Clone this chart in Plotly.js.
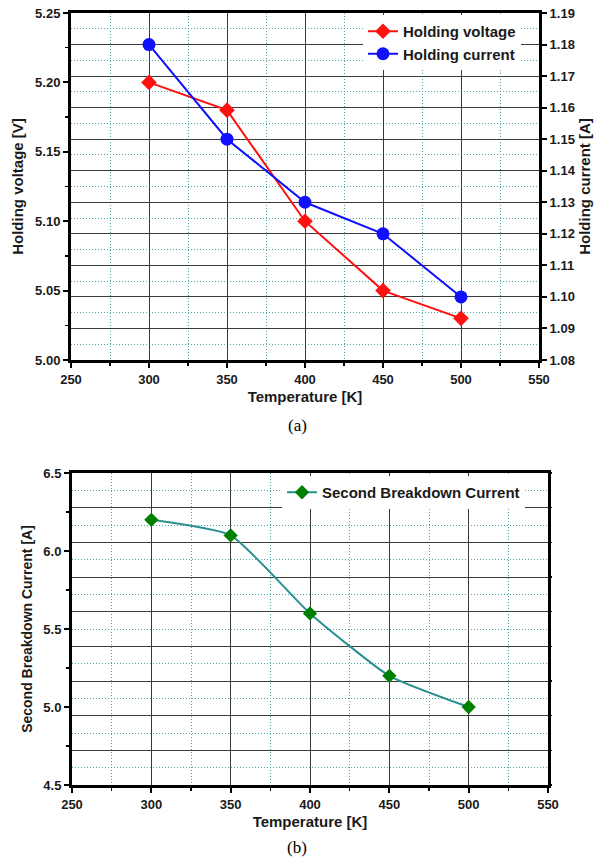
<!DOCTYPE html>
<html>
<head>
<meta charset="utf-8">
<script src="https://cdn.plot.ly/plotly-3.0.1.min.js"></script>
<style>
html,body{margin:0;padding:0;background:#fff;}
#chart{width:595px;height:860px;}
</style>
</head>
<body>
<div id="chart"></div>
<script>
// ---- data ----
const temperatures = [300, 350, 400, 450, 500];
const holdingVoltage = [5.20, 5.18, 5.10, 5.05, 5.03];
const holdingCurrent = [1.18, 1.15, 1.13, 1.12, 1.10];
const secondBreakdownCurrent = [6.2, 6.1, 5.6, 5.2, 5.0];
const seriesNames = ['Holding voltage', 'Holding current', 'Second Breakdown Current'];
const captions = ['(a)', '(b)'];

// ---- geometry helpers ----
const W = 595, H = 860;
const fx = px => px / W;
const fy = py => 1 - py / H;

const FONT = 'Liberation Sans, Arial, sans-serif';
const tickFont = {family: FONT, size: 13, color: '#1a1a1a', weight: 'bold'};
const titleFont = {family: FONT, size: 15, color: '#1a1a1a', weight: 'bold'};
const majorGrid = '#3a3a3a';
const minorGrid = '#4fa8a8';
const minorDash = '1px,2px';

function xAxis(domain, anchor) {
  return {
    domain: domain, anchor: anchor, range: [250, 550], dtick: 50, tick0: 0,
    showline: true, linecolor: '#000', linewidth: 3, mirror: true,
    ticks: 'outside', ticklen: 5, tickwidth: 2, tickcolor: '#000',
    showgrid: true, gridcolor: majorGrid, gridwidth: 1, zeroline: false,
    tickfont: tickFont,
    minor: {dtick: 25, ticks: 'outside', ticklen: 3, tickwidth: 1.5, tickcolor: '#000',
            showgrid: true, gridcolor: minorGrid, griddash: minorDash, gridwidth: 1},
    title: {text: 'Temperature [K]', font: titleFont, standoff: 6}
  };
}

const traces = [
  {
    x: temperatures, y: holdingVoltage, name: seriesNames[0], type: 'scatter', mode: 'lines+markers',
    xaxis: 'x', yaxis: 'y', legend: 'legend',
    line: {color: '#ff1010', width: 2},
    marker: {symbol: 'diamond', size: 12, color: '#ff1010'}
  },
  {
    x: temperatures, y: holdingCurrent, name: seriesNames[1], type: 'scatter', mode: 'lines+markers',
    xaxis: 'x', yaxis: 'y2', legend: 'legend',
    line: {color: '#1010ff', width: 2},
    marker: {symbol: 'circle', size: 13, color: '#1010ff'}
  },
  {
    x: temperatures, y: secondBreakdownCurrent, name: seriesNames[2], type: 'scatter', mode: 'lines+markers',
    xaxis: 'x2', yaxis: 'y3', legend: 'legend2',
    line: {color: '#2a8f8f', width: 2, shape: 'spline', smoothing: 0.5},
    marker: {symbol: 'diamond', size: 11, color: '#008000'}
  },
  {
    x: [], y: [], xaxis: 'x2', yaxis: 'y4', showlegend: false, hoverinfo: 'skip', type: 'scatter', mode: 'markers'
  }
];

const topX = [fx(71), fx(539)], topY = [fy(360), fy(13)];
const botX = [fx(72), fx(548)], botY = [fy(785), fy(473)];

const layout = {
  width: W, height: H,
  margin: {l: 0, r: 0, t: 0, b: 0},
  paper_bgcolor: '#fff', plot_bgcolor: '#fff',
  font: {family: FONT, color: '#1a1a1a'},
  xaxis: xAxis(topX, 'y'),
  yaxis: {
    domain: topY, anchor: 'x', range: [5.00, 5.25], dtick: 0.05, tick0: 0, tickformat: '.2f',
    showline: true, linecolor: '#000', linewidth: 3, mirror: true,
    ticks: 'outside', ticklen: 5, tickwidth: 2, tickcolor: '#000',
    showgrid: false, zeroline: false, tickfont: tickFont,
    minor: {dtick: 0.025, ticks: 'outside', ticklen: 3, tickwidth: 1.5, tickcolor: '#000', showgrid: false},
    title: {text: 'Holding voltage [V]', font: titleFont, standoff: 8}
  },
  yaxis2: {
    overlaying: 'y', side: 'right', anchor: 'x', range: [1.08, 1.19], dtick: 0.01, tick0: 0, tickformat: '.2f',
    showline: true, linecolor: '#000', linewidth: 3,
    ticks: 'outside', ticklen: 5, tickwidth: 2, tickcolor: '#000',
    showgrid: true, gridcolor: majorGrid, gridwidth: 1, zeroline: false, tickfont: tickFont,
    minor: {dtick: 0.005, showgrid: true, gridcolor: minorGrid, griddash: minorDash, gridwidth: 1},
    title: {text: 'Holding current [A]', font: titleFont, standoff: 2}
  },
  xaxis2: xAxis(botX, 'y3'),
  yaxis3: {
    domain: botY, anchor: 'x2', range: [4.5, 6.5], dtick: 0.5, tick0: 0, tickformat: '.1f',
    showline: true, linecolor: '#000', linewidth: 3, mirror: true,
    ticks: 'outside', ticklen: 5, tickwidth: 2, tickcolor: '#000',
    showgrid: false, zeroline: false, tickfont: tickFont,
    minor: {dtick: 0.25, ticks: 'outside', ticklen: 3, tickwidth: 1.5, tickcolor: '#000', showgrid: false},
    title: {text: 'Second Breakdown Current [A]', font: {family: FONT, size: 14, color: '#1a1a1a', weight: 'bold'}, standoff: 8}
  },
  yaxis4: {
    overlaying: 'y3', side: 'right', anchor: 'x2', range: [0, 9], dtick: 1, tick0: 0,
    showline: false, showticklabels: false,
    ticks: 'outside', ticklen: 3, tickwidth: 1.5, tickcolor: '#000',
    showgrid: true, gridcolor: majorGrid, gridwidth: 1, zeroline: false,
    minor: {dtick: 0.5, showgrid: true, gridcolor: minorGrid, griddash: minorDash, gridwidth: 1}
  },
  legend: {
    x: fx(363), y: fy(15), xanchor: 'left', yanchor: 'top',
    bgcolor: '#fff', borderwidth: 0, tracegroupgap: 0, valign: 'middle',
    font: {family: FONT, size: 15, color: '#1a1a1a', weight: 'bold'}
  },
  legend2: {
    x: fx(282), y: fy(476), xanchor: 'left', yanchor: 'top',
    bgcolor: '#fff', borderwidth: 0,
    font: {family: FONT, size: 15, color: '#1a1a1a', weight: 'bold'}
  },
  annotations: [
    {text: captions[0], xref: 'paper', yref: 'paper', x: fx(297), y: fy(425), xanchor: 'center', yanchor: 'middle',
     showarrow: false, font: {family: 'Liberation Serif, Times New Roman, serif', size: 17, color: '#000'}},
    {text: captions[1], xref: 'paper', yref: 'paper', x: fx(297), y: fy(847), xanchor: 'center', yanchor: 'middle',
     showarrow: false, font: {family: 'Liberation Serif, Times New Roman, serif', size: 17, color: '#000'}}
  ],
  showlegend: true
};

Plotly.newPlot('chart', traces, layout, {staticPlot: true, displayModeBar: false}).then(function () {
  // nudge legend 1 (its box would otherwise cover the top frame line)
});
</script>
</body>
</html>
